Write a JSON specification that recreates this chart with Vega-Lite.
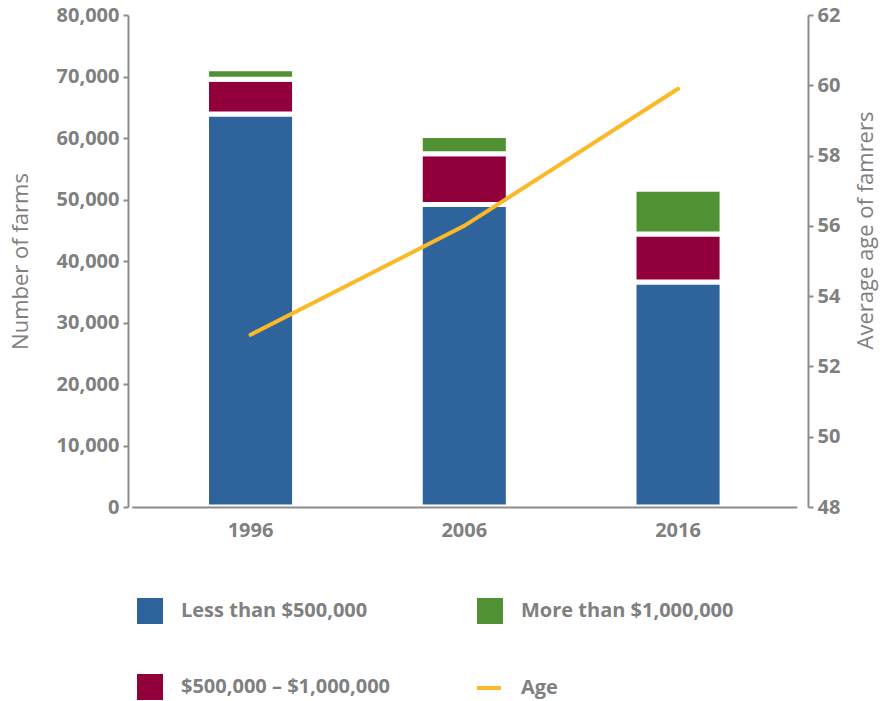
{
  "$schema": "https://vega.github.io/schema/vega-lite/v6.json",
  "width": 680,
  "height": 492,
  "autosize": "none",
  "padding": {"left": 128, "top": 15, "right": 78, "bottom": 194},
  "background": "white",
  "config": {
    "font": "Open Sans",
    "view": {"stroke": null},
    "axis": {
      "labelFont": "Open Sans", "labelFontSize": 20, "labelFontWeight": "bold", "labelColor": "#808080",
      "titleFont": "Open Sans", "titleFontSize": 22, "titleFontWeight": "normal", "titleColor": "#808080",
      "domainColor": "#8c8c8c", "domainWidth": 2, "tickColor": "#8c8c8c", "tickWidth": 2, "tickSize": 5, "grid": false
    },
    "legend": {
      "orient": "none", "title": null,
      "labelFont": "Open Sans", "labelFontSize": 20, "labelFontWeight": "bold", "labelColor": "#808080",
      "labelLimit": 400, "symbolSize": 676, "labelOffset": 18
    }
  },
  "datasets": {
    "farms": [
      {"year": "1996", "category": "Less than $500,000", "farms": 63900},
      {"year": "1996", "category": "$500,000 – $1,000,000", "farms": 5650},
      {"year": "1996", "category": "More than $1,000,000", "farms": 1700},
      {"year": "2006", "category": "Less than $500,000", "farms": 49200},
      {"year": "2006", "category": "$500,000 – $1,000,000", "farms": 8250},
      {"year": "2006", "category": "More than $1,000,000", "farms": 2950},
      {"year": "2016", "category": "Less than $500,000", "farms": 36600},
      {"year": "2016", "category": "$500,000 – $1,000,000", "farms": 7800},
      {"year": "2016", "category": "More than $1,000,000", "farms": 7250}
    ],
    "age": [
      {"year": "1996", "age": 52.9},
      {"year": "2006", "age": 56.0},
      {"year": "2016", "age": 59.9}
    ]
  },
  "layer": [
    {
      "data": {"name": "farms"},
      "mark": {"type": "bar", "stroke": "white", "strokeWidth": 5},
      "encoding": {
        "x": {
          "field": "year", "type": "nominal",
          "scale": {"paddingInner": 0.588, "paddingOuter": 0.35, "range": [3.7, 668.9]},
          "axis": {"title": null, "labelAngle": 0, "ticks": false, "labelPadding": 13, "zindex": 1}
        },
        "y": {
          "field": "farms", "type": "quantitative", "stack": "zero",
          "scale": {"domain": [0, 80000], "nice": false},
          "axis": {"title": "Number of farms", "values": [0, 10000, 20000, 30000, 40000, 50000, 60000, 70000, 80000], "format": ",.0f", "titlePadding": 24, "labelPadding": 4, "zindex": 1}
        },
        "color": {
          "field": "category", "type": "nominal",
          "scale": {
            "domain": ["Less than $500,000", "$500,000 – $1,000,000", "More than $1,000,000"],
            "range": ["#2E639C", "#92003B", "#509134"]
          },
          "legend": {
            "legendX": 9, "legendY": 583, "columns": 2, "direction": "vertical",
            "rowPadding": 50, "columnPadding": 86, "symbolType": "square", "symbolStrokeWidth": 0
          }
        },
        "order": {"field": "farms", "type": "quantitative", "sort": "descending"}
      }
    },
    {
      "data": {"name": "age"},
      "mark": {"type": "line", "strokeWidth": 4, "strokeCap": "round"},
      "encoding": {
        "x": {"field": "year", "type": "nominal"},
        "y": {
          "field": "age", "type": "quantitative",
          "scale": {"domain": [48, 62], "nice": false, "zero": false},
          "axis": {"orient": "right", "title": "Average age of famrers", "titleAngle": 270, "titleY": 215, "values": [48, 50, 52, 54, 56, 58, 60, 62], "titlePadding": 38, "labelPadding": 4, "zindex": 1}
        },
        "stroke": {
          "datum": "Age",
          "scale": {"range": ["#FBB928"]},
          "legend": {"legendX": 347, "legendY": 659, "symbolType": "stroke", "symbolStrokeWidth": 4, "symbolSize": 576}
        }
      }
    }
  ],
  "resolve": {"scale": {"y": "independent"}}
}
